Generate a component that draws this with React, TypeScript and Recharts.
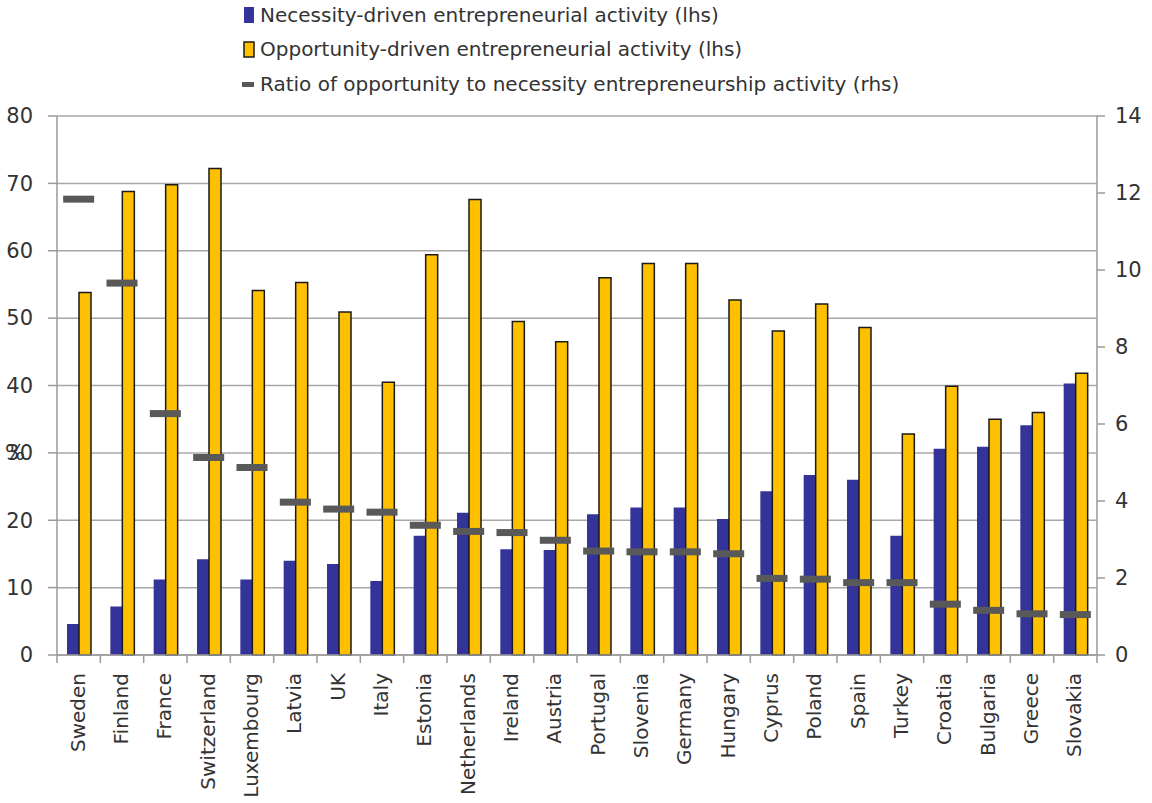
import React from 'react';
import { ComposedChart, Bar, Line, XAxis, YAxis, CartesianGrid } from 'recharts';

const countries = ['Sweden', 'Finland', 'France', 'Switzerland', 'Luxembourg', 'Latvia', 'UK', 'Italy', 'Estonia', 'Netherlands', 'Ireland', 'Austria', 'Portugal', 'Slovenia', 'Germany', 'Hungary', 'Cyprus', 'Poland', 'Spain', 'Turkey', 'Croatia', 'Bulgaria', 'Greece', 'Slovakia'];
const necessity = [4.6, 7.2, 11.2, 14.2, 11.2, 14.0, 13.5, 11.0, 17.7, 21.1, 15.7, 15.6, 20.9, 21.9, 21.9, 20.2, 24.3, 26.7, 26.0, 17.7, 30.6, 30.9, 34.1, 40.3];
const opportunity = [53.8, 68.8, 69.8, 72.2, 54.1, 55.3, 50.9, 40.5, 59.4, 67.6, 49.5, 46.5, 56.0, 58.1, 58.1, 52.7, 48.1, 52.1, 48.6, 32.8, 39.9, 35.0, 36.0, 41.8];
const ratio = [11.84, 9.66, 6.27, 5.13, 4.87, 3.97, 3.79, 3.71, 3.37, 3.21, 3.18, 2.98, 2.70, 2.68, 2.68, 2.63, 1.99, 1.97, 1.88, 1.88, 1.32, 1.16, 1.07, 1.05];

const leftTicks = [0, 10, 20, 30, 40, 50, 60, 70, 80];
const rightTicks = [0, 2, 4, 6, 8, 10, 12, 14];
const legendLabels = [
  'Necessity-driven entrepreneurial activity (lhs)',
  'Opportunity-driven  entrepreneurial activity (lhs)',
  'Ratio of opportunity to necessity entrepreneurship activity (rhs)',
];
const percentLabel = '%';
const percentAt = 30;

const data = countries.map((country, i) => ({
  country,
  necessity: necessity[i],
  opportunity: opportunity[i],
  ratio: ratio[i],
}));

const FONT = '"DejaVu Sans", sans-serif';
const TEXT = '#333333';
const AXIS = '#9a9a9a';
const BLUE = '#333399';
const GOLD = '#FFC000';
const DASH = '#595959';
const X_TICK_SIZE = 8;
const X_TICK_MARGIN = 10;

const LeftTick = (props: any) => {
  const { x, y, payload } = props;
  return (
    <g>
      {payload.value === percentAt && (
        <text x={x - 28} y={y} dy="0.35em" textAnchor="start" fill={TEXT} fontSize={21} fontFamily={FONT}>
          {percentLabel}
        </text>
      )}
      <text x={x} y={y} dy="0.35em" textAnchor="end" fill={TEXT} fontSize={21} fontFamily={FONT}>
        {payload.value}
      </text>
    </g>
  );
};

const RightTick = (props: any) => {
  const { x, y, payload } = props;
  return (
    <text x={x} y={y} dy="0.35em" textAnchor="start" fill={TEXT} fontSize={21} fontFamily={FONT}>
      {payload.value}
    </text>
  );
};

const CountryTick = (props: any) => {
  const { x, y, payload, index, width, visibleTicksCount } = props;
  const count = visibleTicksCount || countries.length;
  const band = typeof width === 'number' && width > 0 ? width / count : 0;
  const axisY = y - X_TICK_SIZE - X_TICK_MARGIN;
  return (
    <g>
      {band > 0 && (
        <line x1={x - band / 2} x2={x - band / 2} y1={axisY} y2={axisY + X_TICK_SIZE} stroke={AXIS} strokeWidth={1.5} />
      )}
      {band > 0 && index === count - 1 && (
        <line x1={x + band / 2} x2={x + band / 2} y1={axisY} y2={axisY + X_TICK_SIZE} stroke={AXIS} strokeWidth={1.5} />
      )}
      <text
        x={x}
        y={y}
        dy="0.3em"
        textAnchor="end"
        transform={`rotate(-90, ${x}, ${y})`}
        fill={TEXT}
        fontSize={20}
        fontFamily={FONT}
      >
        {payload.value}
      </text>
    </g>
  );
};

const DashDot = (props: any) => {
  const { cx, cy, index } = props;
  if (cx == null || cy == null) return <g key={`d-${index}`} />;
  return <rect key={`d-${index}`} x={cx - 15.5} y={cy - 3.5} width={31} height={7} fill={DASH} />;
};

const LegendOverlay = () => (
  <svg width={1152} height={110} style={{ position: 'absolute', left: 0, top: 0, pointerEvents: 'none' }}>
    <rect x={244} y={7} width={10} height={16} fill={BLUE} />
    <text x={260} y={15} dy="0.35em" fill={TEXT} fontSize={20} fontFamily={FONT}>{legendLabels[0]}</text>
    <rect x={244} y={42} width={10} height={15} fill={GOLD} stroke="#1a1a1a" strokeWidth={1.5} />
    <text x={260} y={49} dy="0.35em" fill={TEXT} fontSize={20} fontFamily={FONT}>{legendLabels[1]}</text>
    <rect x={242} y={82} width={12} height={5} fill={DASH} />
    <text x={260} y={84} dy="0.35em" fill={TEXT} fontSize={20} fontFamily={FONT}>{legendLabels[2]}</text>
  </svg>
);

export default function App() {
  return (
    <div style={{ position: 'absolute', left: 0, top: 0, width: 1152, height: 803, background: '#fff' }}>
      <ComposedChart
        width={1152}
        height={803}
        data={data}
        margin={{ top: 116, right: 0, bottom: 0, left: 0 }}
        barGap={0}
      >
        <CartesianGrid yAxisId="left" horizontal vertical={false} stroke="#a8a8a8" strokeWidth={1.5} />
        <XAxis
          dataKey="country"
          interval={0}
          height={148}
          axisLine={{ stroke: AXIS, strokeWidth: 1.5 }}
          tickLine={false}
          tickSize={X_TICK_SIZE}
          tickMargin={X_TICK_MARGIN}
          tick={<CountryTick />}
        />
        <YAxis
          yAxisId="left"
          width={57}
          domain={[0, 80]}
          ticks={leftTicks}
          interval={0}
          axisLine={{ stroke: AXIS, strokeWidth: 1.5 }}
          tickLine={{ stroke: AXIS, strokeWidth: 1.5 }}
          tickSize={9}
          tickMargin={15}
          tick={<LeftTick />}
        />
        <YAxis
          yAxisId="right"
          orientation="right"
          width={55}
          domain={[0, 14]}
          ticks={rightTicks}
          interval={0}
          axisLine={{ stroke: AXIS, strokeWidth: 1.5 }}
          tickLine={{ stroke: AXIS, strokeWidth: 1.5 }}
          tickSize={8}
          tickMargin={10}
          tick={<RightTick />}
        />
        <Bar dataKey="necessity" yAxisId="left" fill={BLUE} barSize={12} isAnimationActive={false} />
        <Bar
          dataKey="opportunity"
          yAxisId="left"
          fill={GOLD}
          stroke="#1a1a1a"
          strokeWidth={1.5}
          barSize={12}
          isAnimationActive={false}
        />
        <Line
          dataKey="ratio"
          yAxisId="right"
          stroke="none"
          dot={<DashDot />}
          activeDot={false}
          legendType="none"
          isAnimationActive={false}
        />
      </ComposedChart>
      <LegendOverlay />
    </div>
  );
}
